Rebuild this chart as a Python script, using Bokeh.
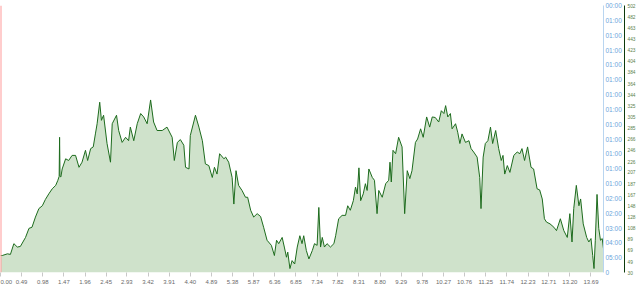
from bokeh.plotting import figure
from bokeh.models import Range1d, LinearAxis, FixedTicker, Span, PrintfTickFormatter
from bokeh.embed import file_html
from bokeh.resources import INLINE

distance_km = [0.00, 0.04, 0.16, 0.23, 0.31, 0.39, 0.46, 0.58, 0.66, 0.73,
               0.81, 0.89, 0.97, 1.04, 1.12, 1.20, 1.28, 1.33, 1.36, 1.37,
               1.38, 1.40, 1.43, 1.51, 1.58, 1.66, 1.74, 1.82, 1.89, 1.97,
               2.02, 2.09, 2.15, 2.20, 2.24, 2.30, 2.34, 2.39, 2.47, 2.55,
               2.59, 2.69, 2.74, 2.82, 2.90, 2.97, 3.01, 3.09, 3.17, 3.25,
               3.32, 3.40, 3.48, 3.55, 3.63, 3.75, 3.86, 3.98, 4.03, 4.10,
               4.17, 4.25, 4.29, 4.37, 4.40, 4.52, 4.60, 4.68, 4.75, 4.83,
               4.91, 4.96, 5.02, 5.08, 5.18, 5.22, 5.29, 5.37, 5.41, 5.46,
               5.52, 5.60, 5.68, 5.73, 5.80, 5.87, 5.95, 6.03, 6.10, 6.18,
               6.28, 6.35, 6.40, 6.45, 6.53, 6.58, 6.63, 6.66, 6.71, 6.76,
               6.82, 6.88, 6.94, 6.99, 7.03, 7.09, 7.15, 7.23, 7.28, 7.34,
               7.38, 7.42, 7.46, 7.51, 7.57, 7.65, 7.73, 7.77, 7.84, 7.92,
               8.00, 8.05, 8.11, 8.18, 8.23, 8.27, 8.31, 8.35, 8.41, 8.46,
               8.50, 8.54, 8.62, 8.67, 8.73, 8.77, 8.85, 8.93, 9.00, 9.03,
               9.06, 9.10, 9.16, 9.23, 9.31, 9.37, 9.43, 9.49, 9.54, 9.62,
               9.67, 9.74, 9.80, 9.88, 9.95, 10.01, 10.08, 10.16, 10.22, 10.28,
               10.32, 10.37, 10.43, 10.47, 10.55, 10.60, 10.65, 10.70, 10.78, 10.86,
               10.91, 10.97, 11.05, 11.11, 11.14, 11.19, 11.24, 11.30, 11.36, 11.41,
               11.48, 11.55, 11.61, 11.65, 11.69, 11.75, 11.81, 11.90, 11.98, 12.04,
               12.09, 12.15, 12.22, 12.30, 12.36, 12.44, 12.50, 12.56, 12.61, 12.66,
               12.74, 12.83, 12.89, 12.98, 13.06, 13.14, 13.20, 13.25, 13.29, 13.35,
               13.41, 13.45, 13.51, 13.59, 13.64, 13.69, 13.73, 13.76, 13.79, 13.83,
               13.87, 13.91, 13.95, 13.98]

elevation_m = [60, 60, 63, 62, 81, 75, 76, 92, 108, 110,
               128, 143, 148, 159, 169, 178, 184, 193, 200, 269,
               200, 199, 213, 231, 228, 237, 237, 216, 225, 246,
               228, 249, 252, 275, 293, 331, 299, 308, 258, 225,
               293, 308, 281, 260, 269, 263, 287, 263, 293, 311,
               305, 293, 335, 296, 281, 281, 287, 269, 228, 260,
               265, 255, 216, 213, 272, 308, 287, 263, 222, 219,
               198, 216, 204, 240, 231, 234, 225, 198, 151, 210,
               184, 175, 163, 163, 140, 128, 134, 129, 110, 87,
               78, 60, 87, 81, 92, 75, 57, 66, 37, 51,
               45, 75, 95, 81, 95, 69, 54, 69, 81, 78,
               145, 75, 92, 75, 81, 75, 81, 95, 125, 131,
               131, 148, 140, 157, 181, 169, 215, 157, 169, 187,
               175, 213, 198, 193, 134, 175, 163, 187, 193, 225,
               190, 246, 240, 269, 252, 134, 210, 196, 210, 260,
               266, 284, 269, 305, 287, 305, 304, 296, 316, 311,
               325, 305, 311, 284, 293, 278, 258, 275, 260, 263,
               249, 243, 234, 198, 143, 234, 258, 263, 287, 258,
               281, 249, 228, 237, 204, 219, 207, 237, 243, 240,
               249, 228, 252, 216, 213, 178, 176, 160, 125, 119,
               116, 110, 104, 125, 104, 92, 134, 84, 143, 184,
               148, 160, 116, 92, 84, 90, 60, 37, 87, 168,
               108, 87, 90, 72]

x_tick_labels = ["0.00", "0.49", "0.98", "1.47", "1.96", "2.45", "2.93", "3.42",
                 "3.91", "4.40", "4.89", "5.38", "5.87", "6.36", "6.85", "7.34",
                 "7.82", "8.31", "8.80", "9.29", "9.78", "10.27", "10.76", "11.25",
                 "11.74", "12.23", "12.71", "13.20", "13.69"]

elev_ticks = [30, 49, 69, 89, 108, 128, 148, 167, 187, 207, 226, 246, 266,
              285, 305, 325, 344, 364, 384, 404, 423, 443, 463, 482, 502]

time_tick_labels = ["0", "05:00", "04:00", "03:00", "02:00", "02:00",
                    "01:00", "01:00", "01:00", "01:00", "01:00", "01:00",
                    "01:00", "01:00", "01:00", "01:00", "01:00", "01:00", "00:00"]

FONT = "Liberation Sans"

p = figure(width=640, height=289, output_backend="svg", toolbar_location=None,
           x_range=Range1d(0, 13.98), y_range=Range1d(30, 502),
           y_axis_location=None,
           min_border_left=0, min_border_right=37, min_border_top=5, min_border_bottom=17)
p.background_fill_color = "white"
p.border_fill_color = "white"
p.outline_line_color = None
p.xgrid.visible = False
p.ygrid.visible = False

p.varea(x=distance_km, y1=30, y2=elevation_m, fill_color="#cfe2cb", fill_alpha=1.0)
p.line(distance_km, elevation_m, line_color="#1d6b1d", line_width=1)

p.add_layout(Span(location=0, dimension="height", line_color="#ff9c9c", line_width=2))

xa = p.xaxis[0]
xa.ticker = FixedTicker(ticks=[float(s) for s in x_tick_labels])
xa.formatter = PrintfTickFormatter(format="%.2f")
xa.axis_line_color = None
xa.major_tick_line_color = "#c8c8c8"
xa.major_tick_out = 4
xa.major_tick_in = 0
xa.minor_tick_line_color = None
xa.major_label_standoff = 3
xa.major_label_text_font = FONT
xa.major_label_text_font_size = "6px"
xa.major_label_text_color = "#6a6a6a"

p.extra_y_ranges = {"time": Range1d(0, 18)}
time_axis = LinearAxis(y_range_name="time",
                       ticker=FixedTicker(ticks=list(range(len(time_tick_labels)))),
                       major_label_overrides={i: s for i, s in enumerate(time_tick_labels)})
time_axis.axis_line_color = "#b9d5f0"
time_axis.axis_line_width = 1
time_axis.major_tick_line_color = None
time_axis.major_tick_out = 0
time_axis.major_tick_in = 0
time_axis.minor_tick_line_color = None
time_axis.major_label_standoff = 2
time_axis.major_label_text_font = FONT
time_axis.major_label_text_font_size = "6.5px"
time_axis.major_label_text_color = "#6aa6dc"
p.add_layout(time_axis, "right")

elev_axis = LinearAxis(ticker=FixedTicker(ticks=elev_ticks))
elev_axis.axis_line_color = "#0c3a0c"
elev_axis.axis_line_width = 1
elev_axis.major_tick_line_color = None
elev_axis.major_tick_out = 0
elev_axis.major_tick_in = 0
elev_axis.minor_tick_line_color = None
elev_axis.major_label_standoff = 3
elev_axis.major_label_text_font = FONT
elev_axis.major_label_text_font_size = "4.8px"
elev_axis.major_label_text_color = "#5c7f4c"
p.add_layout(elev_axis, "right")

open("out.html", "w").write(file_html(p, INLINE))
